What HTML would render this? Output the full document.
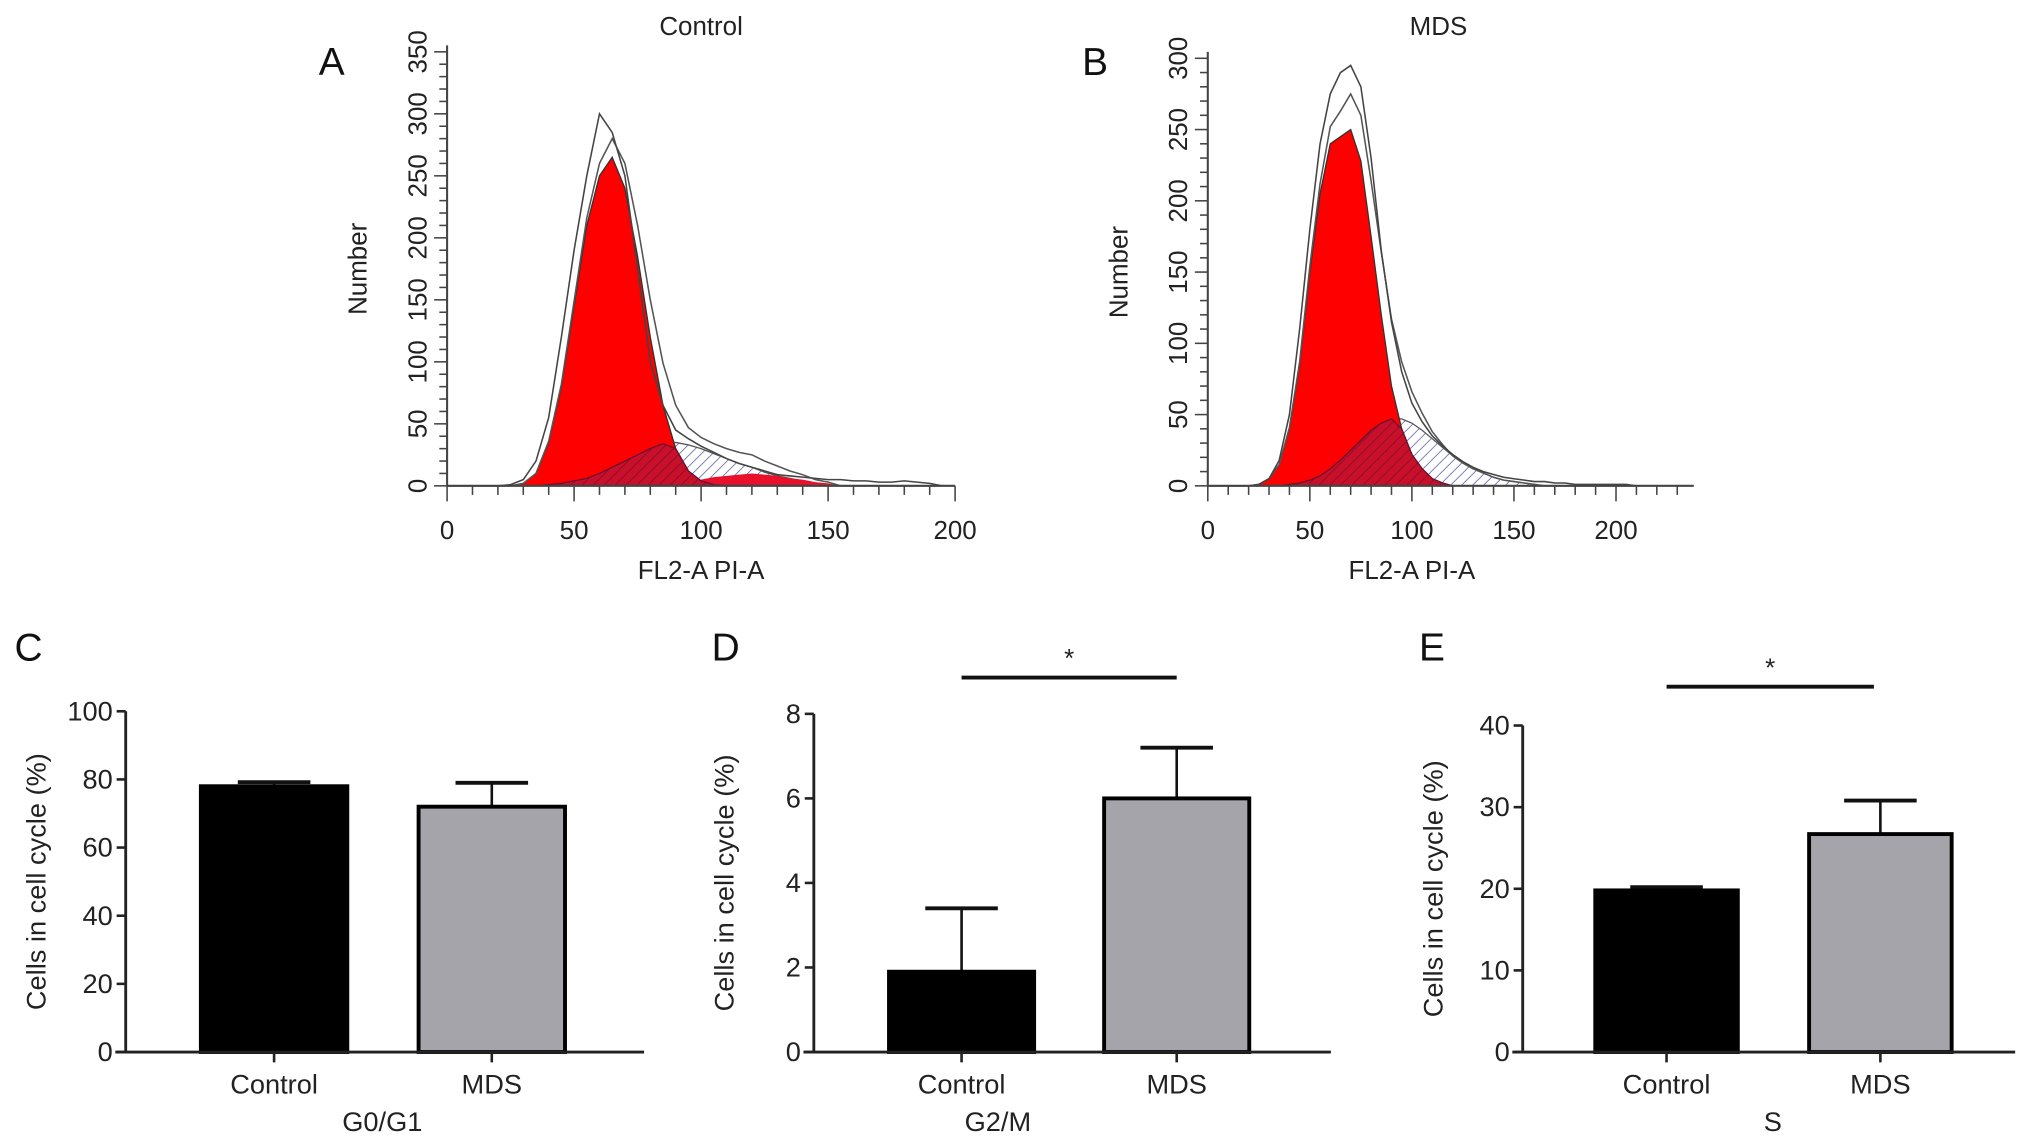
<!DOCTYPE html>
<html><head><meta charset="utf-8"><style>
html,body{margin:0;padding:0;background:#fff;}
svg{display:block;font-family:"Liberation Sans",Arial,sans-serif;}
</style></head><body>
<svg id="fig" width="2032" height="1144" viewBox="0 0 1568 883" preserveAspectRatio="none" xmlns="http://www.w3.org/2000/svg">
<defs>
<pattern id="hatch" patternUnits="userSpaceOnUse" width="6" height="6" patternTransform="rotate(45)">
<rect width="6" height="6" fill="#fff"/><line x1="0" y1="0" x2="0" y2="6" stroke="#6a6aa8" stroke-width="1.3"/>
</pattern>
<pattern id="hatchDark" patternUnits="userSpaceOnUse" width="6" height="6" patternTransform="rotate(45)">
<rect width="6" height="6" fill="#c8102a"/><line x1="0" y1="0" x2="0" y2="6" stroke="#8a0a2a" stroke-width="1.3"/>
</pattern>
</defs>
<g id="root"></g>
</svg>
<script>
// ---- Histogram data (x in channel units, step 5) ----
const histX = [0,5,10,15,20,25,30,35,40,45,50,55,60,65,70,75,80,85,90,95,100,105,110,115,120,125,130,135,140,145,150,155,160,165,170,175,180,185,190,195,200,205,210];
const ctrlRaw = [0,0,0,0,0,1,5,20,55,120,190,250,300,285,250,175,100,65,45,38,32,27,22,18,15,12,9,8,7,6,5,5,4,4,3,3,4,3,2,0,0,0,0];
const ctrlG1  = [0,0,0,0,0,0,2,10,35,80,145,210,250,265,240,185,120,65,30,12,4,1,0,0,0,0,0,0,0,0,0,0,0,0,0,0,0,0,0,0,0,0,0];
const ctrlS   = [0,0,0,0,0,0,0,0,1,2,4,6,10,15,20,25,30,34,35,33,30,26,22,18,15,11,8,6,4,2,1,0,0,0,0,0,0,0,0,0,0,0,0];
const ctrlG2  = [0,0,0,0,0,0,0,0,0,0,0,0,0,0,0,0,0,0,0,2,5,7,8,9,10,9,8,6,5,3,2,0,0,0,0,0,0,0,0,0,0,0,0];
const mdsRaw  = [0,0,0,0,0,1,5,18,50,110,180,240,275,290,295,280,230,165,115,80,58,45,35,28,22,17,13,10,8,6,5,4,3,3,2,2,1,1,1,1,1,1,0];
const mdsG1   = [0,0,0,0,0,1,5,15,40,85,150,205,240,245,250,228,175,120,70,40,22,12,5,2,0,0,0,0,0,0,0,0,0,0,0,0,0,0,0,0,0,0,0];
const mdsS    = [0,0,0,0,0,0,0,0,1,2,4,7,12,18,25,32,39,44,47,47,44,39,33,27,21,16,12,9,6,4,3,2,1,0,0,0,0,0,0,0,0,0,0];
const histAxisA = {xTicks:[0,50,100,150,200], yTicks:[0,50,100,150,200,250,300,350]};
const histAxisB = {xTicks:[0,50,100,150,200], yTicks:[0,50,100,150,200,250,300]};
// ---- Bar data ----
const barCats = ["Control","MDS"];
const g1Vals = [78, 72]; const g1Err = [79.2, 79];
const g2Vals = [1.9, 6.0]; const g2Err = [3.4, 7.2];
const sVals = [19.8, 26.7]; const sErr = [20.2, 30.8];
const g1Ticks = [0,20,40,60,80,100];
const g2Ticks = [0,2,4,6,8];
const sTicks = [0,10,20,30,40];

const NS="http://www.w3.org/2000/svg";
const root=document.getElementById('root');
function el(tag,attrs,parent,text){const e=document.createElementNS(NS,tag);for(const k in attrs)e.setAttribute(k,attrs[k]);if(text!==undefined)e.textContent=text;(parent||root).appendChild(e);return e;}
function txt(x,y,s,size,parent,anchor,rot,fill){const t=el('text',{x:x,y:y,'font-size':size,'text-anchor':anchor||'middle',fill:fill||'#222'},parent,s);if(rot)t.setAttribute('transform','rotate('+rot+' '+x+' '+y+')');return t;}

function histPanel(cfg){
  const g=el('g',{});
  
  
  const sx=v=>cfg.x0+(v-0)*(cfg.x1-cfg.x0)/cfg.xMaxTick;
  const sy=v=>cfg.y0-(v)*(cfg.y0-cfg.y1)/cfg.yMaxTick;
  function area(vals,fill,nm,stroke){
    let d='M'+sx(histX[0])+' '+sy(0);
    histX.forEach((x,i)=>{if(x<=cfg.xEnd)d+=' L'+sx(x)+' '+sy(vals[i]);});
    d+=' L'+sx(Math.min(histX[histX.length-1],cfg.xEnd))+' '+sy(0)+' Z';
    const p=el('path',{d:d,fill:fill,stroke:stroke||'none','stroke-width':1},g);
    
    
    return p;
  }
  function line(vals,nm,col,w){
    let d='';histX.forEach((x,i)=>{if(x<=cfg.xEnd)d+=(d?' L':'M')+sx(x)+' '+sy(vals[i]);});
    const p=el('path',{d:d,fill:'none',stroke:col,'stroke-width':w},g);
    
    
  }
  area(cfg.s,'url(#hatch)',cfg.name+'-s-phase','#555');
  area(cfg.g1,'#ff0000',cfg.name+'-g1-peak','#333');
  if(cfg.g2) area(cfg.g2,'#e8102a',cfg.name+'-g2-peak');
  const ov=cfg.s.map((v,i)=>Math.min(v,cfg.g1[i]));
  area(ov,'url(#hatchDark)',cfg.name+'-overlap','#6a1030');
  const tot=cfg.g1.map((v,i)=>v+cfg.s[i]+(cfg.g2?cfg.g2[i]:0));
  line(tot,cfg.name+'-fit-line','#555',1.2);
  line(cfg.raw,cfg.name+'-raw-histogram','#444',1.2);
  el('line',{x1:cfg.x0,y1:cfg.y0,x2:cfg.xAxisEnd,y2:cfg.y0,stroke:'#444','stroke-width':1.6},g);
  el('line',{x1:cfg.x0,y1:cfg.y0,x2:cfg.x0,y2:cfg.y1-5,stroke:'#444','stroke-width':1.6},g);
  for(let v=0;sx(v)<=cfg.xAxisEnd+0.5;v+=10){const big=v%50===0;el('line',{x1:sx(v),y1:cfg.y0,x2:sx(v),y2:cfg.y0+(big?12:7),stroke:'#444','stroke-width':1.2},g);}
  for(let v=0;v<=cfg.yMaxTick;v+=10){const big=v%50===0;el('line',{x1:cfg.x0,y1:sy(v),x2:cfg.x0-(big?10:6),y2:sy(v),stroke:'#444','stroke-width':1.2},g);}
  cfg.ax.xTicks.forEach(v=>txt(sx(v),sy(0)+41,String(v),20,g));
  cfg.ax.yTicks.forEach(v=>txt(cfg.x0-16,sy(v),String(v),20,g,'middle',-90));
  txt((cfg.x0+cfg.x1)/2,447,'FL2-A PI-A',20,g);
  txt(cfg.x0-62,(cfg.y0+cfg.y1)/2,'Number',20,g,'middle',-90);
  txt(cfg.titleX,27,cfg.title,20,g);
  txt(cfg.letterX,58,cfg.letter,30,g,'middle',0,'#111');
}
histPanel({name:'histogram-control',raw:ctrlRaw,g1:ctrlG1,s:ctrlS,g2:ctrlG2,ax:histAxisA,x0:345,x1:737,xMaxTick:200,xEnd:195,xAxisEnd:737,y0:375,y1:40,yMaxTick:350,title:'Control',titleX:541,letter:'A',letterX:256});
histPanel({name:'histogram-mds',raw:mdsRaw,g1:mdsG1,s:mdsS,g2:null,ax:histAxisB,x0:932,x1:1247,xMaxTick:200,xEnd:210,xAxisEnd:1307,y0:375,y1:45,yMaxTick:300,title:'MDS',titleX:1110,letter:'B',letterX:845});

function barPanel(cfg){
  const g=el('g',{});
  
  
  const max=cfg.ticks[cfg.ticks.length-1];
  const sy=v=>cfg.y0-v*(cfg.y0-cfg.y1)/max;
  const fills=['#000','#a4a4aa'];
  cfg.vals.forEach((v,i)=>{
    const bx=cfg.barX[i];
    const e=el('line',{x1:bx+cfg.bw/2,y1:sy(v),x2:bx+cfg.bw/2,y2:sy(cfg.err[i]),stroke:'#111','stroke-width':2},g);
    
    
    el('line',{x1:bx+cfg.bw/2-28,y1:sy(cfg.err[i]),x2:bx+cfg.bw/2+28,y2:sy(cfg.err[i]),stroke:'#111','stroke-width':3},g);
    const r=el('rect',{x:bx,y:sy(v),width:cfg.bw,height:sy(0)-sy(v),fill:fills[i],stroke:'#000','stroke-width':3},g);
    
    
    el('line',{x1:bx+cfg.bw/2,y1:sy(0),x2:bx+cfg.bw/2,y2:sy(0)+8,stroke:'#222','stroke-width':2},g);
    txt(bx+cfg.bw/2,sy(0)+32,barCats[i],21,g);
  });
  el('line',{x1:cfg.x0-8,y1:sy(0),x2:cfg.xEnd,y2:sy(0),stroke:'#222','stroke-width':2.2},g);
  el('line',{x1:cfg.x0,y1:sy(0),x2:cfg.x0,y2:sy(max),stroke:'#222','stroke-width':2.2},g);
  cfg.ticks.forEach(v=>{el('line',{x1:cfg.x0-7,y1:sy(v),x2:cfg.x0,y2:sy(v),stroke:'#222','stroke-width':2},g);txt(cfg.x0-10,sy(v)+7,String(v),21,g,'end');});
  txt(cfg.x0-62,(sy(0)+sy(max))/2,'Cells in cell cycle (%)',21,g,'middle',-90);
  txt(cfg.groupX,873,cfg.group,21,g);
  txt(cfg.letterX,510,cfg.letter,30,g,'middle',0,'#111');
  if(cfg.sig){el('line',{x1:cfg.sig[0],y1:cfg.sig[2],x2:cfg.sig[1],y2:cfg.sig[2],stroke:'#111','stroke-width':3},g);
    txt((cfg.sig[0]+cfg.sig[1])/2,cfg.sig[2]-8,'*',20,g);}
}
barPanel({name:'bar-chart-g0g1',vals:g1Vals,err:g1Err,ticks:g1Ticks,x0:97,xEnd:497,y0:812,y1:549,barX:[155,323],bw:113,group:'G0/G1',groupX:295,letter:'C',letterX:22});
barPanel({name:'bar-chart-g2m',vals:g2Vals,err:g2Err,ticks:g2Ticks,x0:628,xEnd:1027,y0:812,y1:551,barX:[686,852],bw:112,group:'G2/M',groupX:770,letter:'D',letterX:560,sig:[742,908,523]});
barPanel({name:'bar-chart-s',vals:sVals,err:sErr,ticks:sTicks,x0:1175,xEnd:1555,y0:812,y1:560,barX:[1231,1396],bw:110,group:'S',groupX:1368,letter:'E',letterX:1105,sig:[1286,1446,530]});
</script>
</body></html>
